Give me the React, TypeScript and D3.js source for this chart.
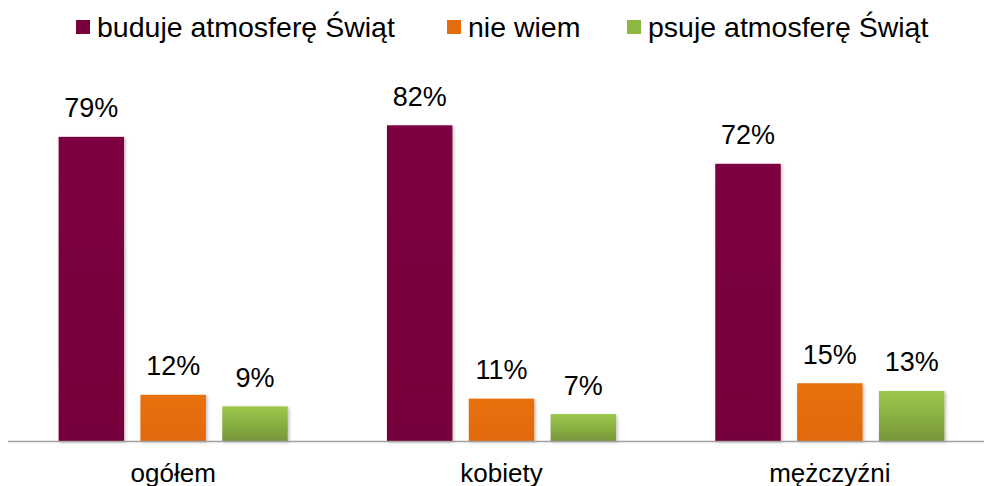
import React from "react";
import * as d3 from "d3";

const categories = ["ogółem", "kobiety", "mężczyźni"];
const seriesNames = ["buduje atmosferę Świąt", "nie wiem", "psuje atmosferę Świąt"];
const buduje = [79, 82, 72];
const nieWiem = [12, 11, 15];
const psuje = [9, 7, 13];
const seriesValues = [buduje, nieWiem, psuje];

const W = 984;
const H = 486;
const FONT = "'Liberation Sans', Arial, sans-serif";

const gradients = [
  { id: "g0", top: "#7d003f", bottom: "#76003b" },
  { id: "g1", top: "#e8700c", bottom: "#e06a0a" },
  { id: "g2", top: "#9dc84b", bottom: "#76973a" },
];
const legendColors = ["#7a003c", "#e46c0a", "#8db842"];
const legendX = [76, 447, 627];

export default function App() {
  const x0 = d3.scaleBand<string>().domain(categories).range([9, 994]).padding(0);
  const x1 = d3
    .scaleBand<number>()
    .domain([0, 1, 2])
    .range([0, x0.bandwidth()])
    .paddingInner(0.2)
    .paddingOuter(0.606);
  const y = d3.scaleLinear().domain([0, 100]).range([441, 56]);

  return (
    <div style={{ position: "absolute", left: 0, top: 0 }}>
      <svg width={W} height={H} style={{ display: "block", fontFamily: FONT }}>
        <defs>
          {gradients.map((g) => (
            <linearGradient key={g.id} id={g.id} x1="0" y1="0" x2="0" y2="1">
              <stop offset="0%" stopColor={g.top} />
              <stop offset="100%" stopColor={g.bottom} />
            </linearGradient>
          ))}
          <filter id="shadow" x="-10%" y="-10%" width="130%" height="130%">
            <feDropShadow dx="1.5" dy="1.5" stdDeviation="1.5" floodColor="#000" floodOpacity="0.25" />
          </filter>
        </defs>
        <rect width={W} height={H} fill="#fff" />

        {/* legend */}
        {seriesNames.map((name, i) => (
          <g key={name}>
            <rect x={legendX[i]} y={20} width={14} height={14} fill={legendColors[i]} />
            <text x={legendX[i] + 21} y={36.5} fontSize={28.5} fill="#000">
              {name}
            </text>
          </g>
        ))}

        {/* bars */}
        {categories.map((c, ci) => (
          <g key={c} transform={`translate(${x0(c)},0)`}>
            {seriesValues.map((vals, si) => {
              const v = vals[ci];
              const bx = x1(si)!;
              const bw = x1.bandwidth();
              return (
                <g key={si}>
                  <rect
                    x={bx}
                    y={y(v)}
                    width={bw}
                    height={y(0) - y(v)}
                    fill={`url(#g${si})`}
                    filter="url(#shadow)"
                  />
                  <text
                    x={bx + bw / 2}
                    y={y(v) - 19.5}
                    textAnchor="middle"
                    fontSize={27}
                    fill="#000"
                  >
                    {v}%
                  </text>
                </g>
              );
            })}
          </g>
        ))}

        {/* axis line */}
        <line x1={8} x2={W} y1={441.5} y2={441.5} stroke="#a0a0a0" strokeWidth={1.5} />

        {/* category labels */}
        {categories.map((c) => (
          <text
            key={c}
            x={x0(c)! + x0.bandwidth() / 2}
            y={481.5}
            textAnchor="middle"
            fontSize={26}
            fill="#000"
          >
            {c}
          </text>
        ))}
      </svg>
    </div>
  );
}
